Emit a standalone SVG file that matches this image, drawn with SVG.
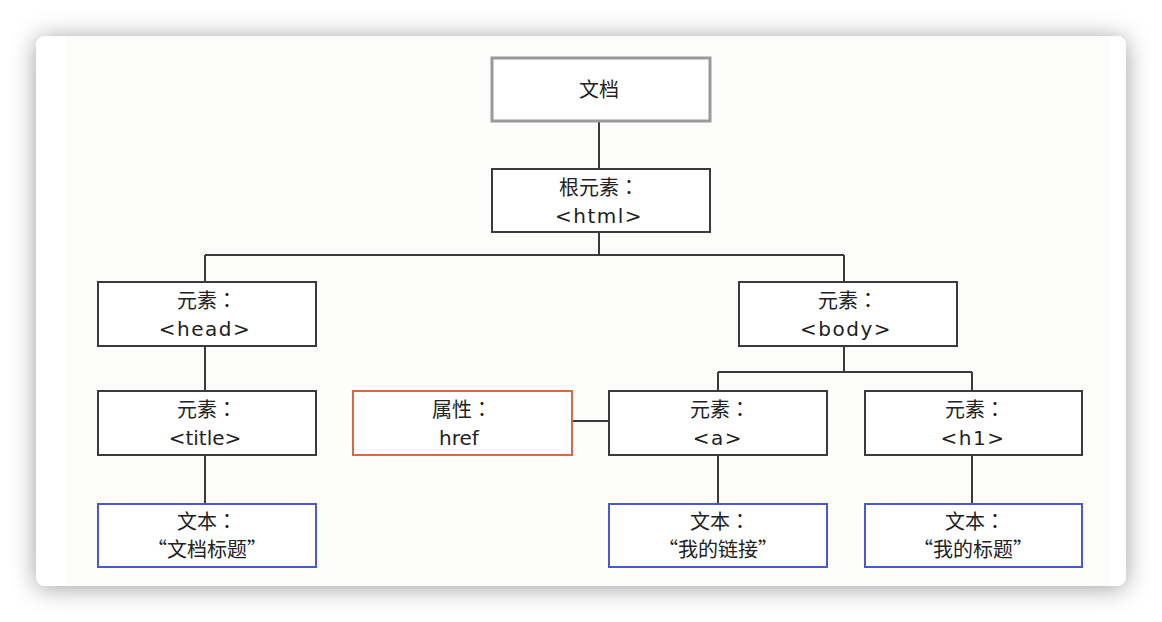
<svg xmlns="http://www.w3.org/2000/svg" width="1162" height="622" viewBox="0 0 1162 622">
  <defs>
    <filter id="shadow" x="-10%" y="-15%" width="120%" height="130%">
      <feDropShadow dx="0" dy="2" stdDeviation="12" flood-color="#000" flood-opacity="0.38"/>
    </filter>
  </defs>
  <style>
    .box { fill: #ffffff; stroke: #3a3a3a; stroke-width: 2; }
    .doc { fill: #ffffff; stroke: #9a9a9a; stroke-width: 3; }
    .attr { fill: #ffffff; stroke: #d6694c; stroke-width: 2; }
    .txt { fill: #ffffff; stroke: #4a58d2; stroke-width: 2; }
    .lbl { font-family: "DejaVu Sans", "Noto Sans CJK SC", sans-serif; font-size: 20px; fill: #222; text-anchor: middle; letter-spacing: 1.5px; }
    .tight { letter-spacing: 0px; }
    .cjk { font-family: "Noto Sans CJK SC", sans-serif; font-size: 20px; fill: #222; text-anchor: middle; }
    .col { font-family: "Noto Sans CJK TC", sans-serif; }
    .conn { fill: none; stroke: #3a3a3a; stroke-width: 2; }
  </style>
  <rect x="0" y="0" width="1162" height="622" fill="#ffffff"/>
  <rect x="36" y="36" width="1090" height="550" rx="9" fill="#ffffff" filter="url(#shadow)"/>
  <rect x="66" y="36" width="1044" height="550" fill="#fcfcfa"/>

  <g id="connectors">
    <path class="conn" d="M599 121 V169"/>
    <path class="conn" d="M599 232 V255 M205 255 H844 M205 255 V282 M844 255 V282"/>
    <path class="conn" d="M205 346 V391"/>
    <path class="conn" d="M205 455 V504"/>
    <path class="conn" d="M844 346 V372 M718 372 H972 M718 372 V391 M972 372 V391"/>
    <path class="conn" d="M572 421 H609"/>
    <path class="conn" d="M718 455 V504"/>
    <path class="conn" d="M972 455 V504"/>
  </g>

  <g id="node-doc">
    <rect class="doc" x="492" y="58" width="218" height="63"/>
    <text class="cjk" x="599" y="97" font-size="22">文档</text>
  </g>
  <g id="node-html">
    <rect class="box" x="492" y="169" width="218" height="63"/>
    <text class="cjk" x="599" y="195">根元素<tspan class="col">：</tspan></text>
    <text class="lbl" x="599" y="223">&lt;html&gt;</text>
  </g>
  <g id="node-head">
    <rect class="box" x="98" y="282" width="218" height="64"/>
    <text class="cjk" x="207" y="308">元素<tspan class="col">：</tspan></text>
    <text class="lbl" x="205" y="336">&lt;head&gt;</text>
  </g>
  <g id="node-body">
    <rect class="box" x="739" y="282" width="218" height="64"/>
    <text class="cjk" x="848" y="308">元素<tspan class="col">：</tspan></text>
    <text class="lbl" x="846" y="336">&lt;body&gt;</text>
  </g>
  <g id="node-title">
    <rect class="box" x="98" y="391" width="218" height="64"/>
    <text class="cjk" x="207" y="417">元素<tspan class="col">：</tspan></text>
    <text class="lbl tight" x="205" y="445">&lt;title&gt;</text>
  </g>
  <g id="node-href">
    <rect class="attr" x="353" y="391" width="219" height="64"/>
    <text class="cjk" x="462" y="417">属性<tspan class="col">：</tspan></text>
    <text class="lbl tight" x="459" y="445">href</text>
  </g>
  <g id="node-a">
    <rect class="box" x="609" y="391" width="218" height="64"/>
    <text class="cjk" x="720" y="417">元素<tspan class="col">：</tspan></text>
    <text class="lbl" x="718" y="445">&lt;a&gt;</text>
  </g>
  <g id="node-h1">
    <rect class="box" x="865" y="391" width="217" height="64"/>
    <text class="cjk" x="975" y="417">元素<tspan class="col">：</tspan></text>
    <text class="lbl" x="973" y="445">&lt;h1&gt;</text>
  </g>
  <g id="node-text-title">
    <rect class="txt" x="98" y="504" width="218" height="63"/>
    <text class="cjk" x="207" y="529">文本<tspan class="col">：</tspan></text>
    <text class="cjk" x="207" y="557">“文档标题”</text>
  </g>
  <g id="node-text-a">
    <rect class="txt" x="609" y="504" width="218" height="63"/>
    <text class="cjk" x="720" y="529">文本<tspan class="col">：</tspan></text>
    <text class="cjk" x="718" y="557">“我的链接”</text>
  </g>
  <g id="node-text-h1">
    <rect class="txt" x="865" y="504" width="217" height="63"/>
    <text class="cjk" x="975" y="529">文本<tspan class="col">：</tspan></text>
    <text class="cjk" x="973" y="557">“我的标题”</text>
  </g>
</svg>
